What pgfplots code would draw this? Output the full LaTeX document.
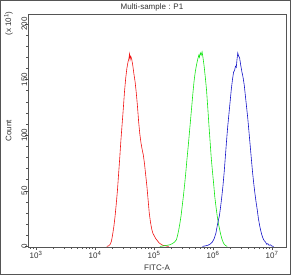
\documentclass[border=0pt]{standalone}
\usepackage{pgfplots}
\pgfplotsset{compat=1.18}
\usepackage{fontspec}
\setmainfont{Liberation Sans}
\definecolor{framegray}{RGB}{85,85,85}
\definecolor{txtgray}{RGB}{50,50,50}
\definecolor{cred}{RGB}{240,20,20}
\definecolor{cgreen}{RGB}{20,230,20}
\definecolor{cblue}{RGB}{20,20,200}
\begin{document}
\begin{tikzpicture}[font=\fontsize{8}{9.5}\selectfont]
\begin{axis}[
  at={(0,0)}, anchor=south west,
  scale only axis, width=258pt, height=233pt,
  xmin=2.873, xmax=7.246, ymin=-0.5, ymax=209,
  axis line style={framegray, line width=0.8pt},
  tick style={framegray, line width=0.6pt},
  tick align=outside,
  xtick pos=bottom, ytick pos=left,
  major tick length=3.2pt, minor tick length=2.2pt,
  xtick={3,4,5,6,7},
  xticklabels={10\textsuperscript{3},10\textsuperscript{4},10\textsuperscript{5},10\textsuperscript{6},10\textsuperscript{7}},
  minor xtick={2.903,2.954,3.301,3.477,3.602,3.699,3.778,3.845,3.903,3.954,4.301,4.477,4.602,4.699,4.778,4.845,4.903,4.954,5.301,5.477,5.602,5.699,5.778,5.845,5.903,5.954,6.301,6.477,6.602,6.699,6.778,6.845,6.903,6.954},
  ytick={0,50,100,150,200},
  minor ytick={10,20,30,40,60,70,80,90,110,120,130,140,160,170,180,190},
  yticklabel style={rotate=90, anchor=center, inner sep=0pt, text=txtgray},
  yticklabel shift=1pt,
  xticklabel style={inner sep=1pt, text=txtgray},
  /pgf/number format/assume math mode=true,
  every axis plot/.append style={line width=0.6pt, no markers},
]
\addplot[cred] coordinates {
(4.20,0) (4.23,0.5) (4.26,2) (4.28,5) (4.30,11) (4.32,18) (4.34,27) (4.36,38)
(4.38,50) (4.40,65) (4.42,80) (4.44,96) (4.46,110) (4.48,124) (4.50,139) (4.52,151)
(4.54,160) (4.56,166) (4.575,169) (4.585,173) (4.595,168) (4.605,171) (4.62,169)
(4.64,163) (4.66,155) (4.68,148) (4.70,138) (4.72,126) (4.74,112) (4.76,101)
(4.78,93) (4.80,87) (4.82,82) (4.84,74) (4.86,64) (4.88,54) (4.90,42) (4.92,30)
(4.94,22) (4.96,16) (4.98,12) (5.00,10) (5.03,7) (5.06,5) (5.09,3) (5.12,2)
(5.15,1) (5.20,0.5) (5.25,0)
};
\addplot[cgreen] coordinates {
(5.10,0) (5.16,0.5) (5.22,1) (5.27,1.5) (5.31,2.5) (5.35,4) (5.38,6) (5.40,10)
(5.42,15) (5.44,21) (5.46,28) (5.48,37) (5.50,46) (5.52,56) (5.54,67) (5.56,79)
(5.58,90) (5.60,102) (5.62,114) (5.64,126) (5.66,138) (5.68,149) (5.70,157)
(5.72,163) (5.74,168) (5.76,172) (5.77,170) (5.785,174) (5.80,172) (5.815,175)
(5.83,170) (5.85,162) (5.87,152) (5.89,141) (5.91,126) (5.93,110) (5.95,95)
(5.97,80) (5.99,68) (6.01,57) (6.03,45) (6.05,36) (6.07,28) (6.09,21) (6.11,16)
(6.13,11) (6.15,7) (6.17,4) (6.19,2) (6.21,1) (6.24,0)
};
\addplot[cblue] coordinates {
(5.82,0) (5.87,0.5) (5.91,1) (5.95,2) (5.99,4) (6.02,7) (6.05,12) (6.07,18)
(6.09,23) (6.11,28) (6.13,36) (6.15,45) (6.17,55) (6.19,67) (6.21,81) (6.23,95)
(6.25,108) (6.27,119) (6.29,130) (6.31,141) (6.33,150) (6.35,157) (6.365,158)
(6.38,162) (6.395,161) (6.405,167) (6.42,174) (6.435,171) (6.45,170) (6.47,163)
(6.49,157) (6.51,152) (6.53,145) (6.55,135) (6.57,125) (6.59,115) (6.61,103)
(6.63,91) (6.65,79) (6.67,67) (6.69,57) (6.71,48) (6.73,40) (6.75,33) (6.77,25)
(6.79,19) (6.81,14) (6.83,10) (6.85,7) (6.87,5) (6.89,4) (6.91,2) (6.93,2.5)
(6.95,1) (6.97,1.5) (7.00,0.3) (7.03,0)
};
\end{axis}
\coordinate (O) at ([shift={(-28.5pt,-28pt)}]current axis.south west);
\node[text=txtgray] at ([shift={(152pt,268pt)}]O) {Multi-sample : P1};
\node[text=txtgray] at ([shift={(157pt,7pt)}]O) {FITC-A};
\node[text=txtgray,rotate=90] at ([shift={(8.5pt,144pt)}]O) {Count};
\node[text=txtgray,rotate=90] at ([shift={(8.5pt,251.5pt)}]O) {(x 10\textsuperscript{1})};
\pgfresetboundingbox
\draw[framegray,line width=1.2pt] ([shift={(0.6pt,0.6pt)}]O) rectangle ([shift={(290.4pt,274.4pt)}]O);
\useasboundingbox (O) rectangle ([shift={(292pt,275pt)}]O);
\end{tikzpicture}
\end{document}
